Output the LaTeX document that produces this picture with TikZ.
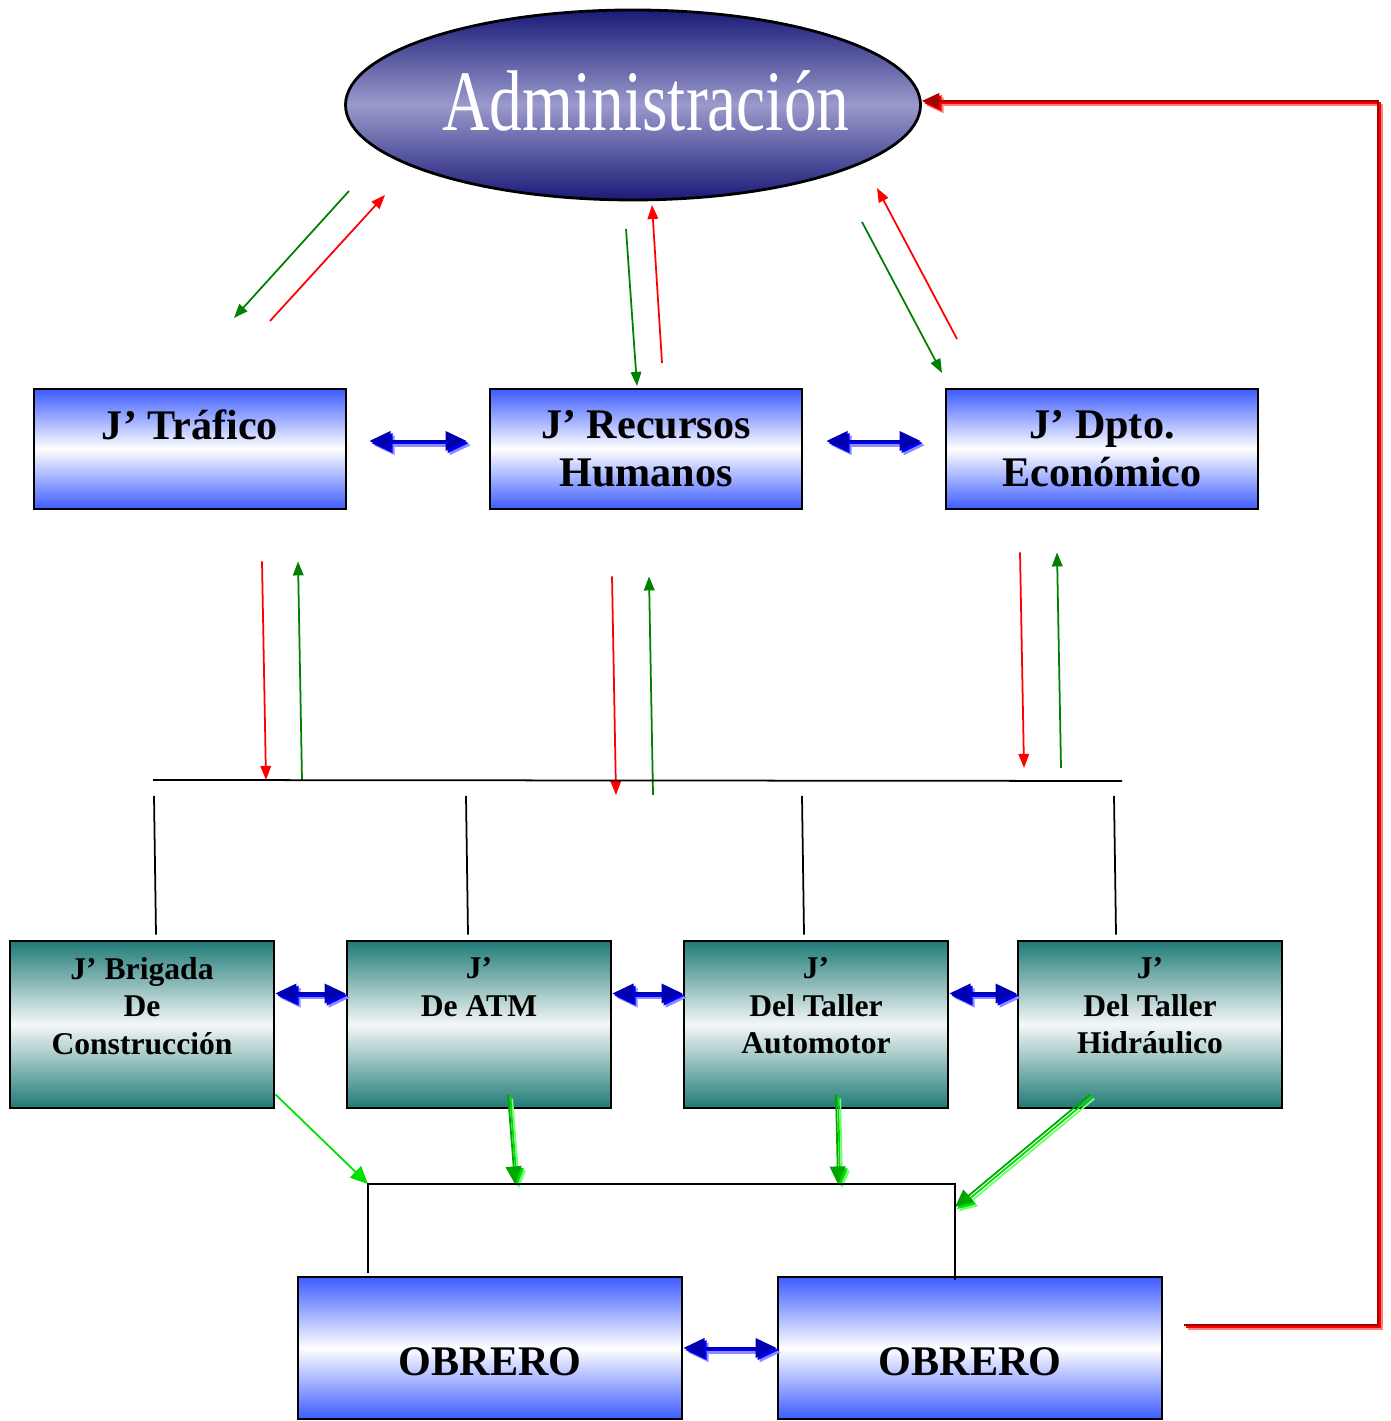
\documentclass[tikz,border=0pt]{standalone}
\usepackage{fontspec}
\setmainfont{Liberation Serif}
\usetikzlibrary{shapes.geometric,arrows.meta}
\definecolor{admdark}{HTML}{1A1A78}
\definecolor{admlight}{HTML}{9A9ACC}
\definecolor{jblue}{HTML}{3D5CFF}
\definecolor{jteal}{HTML}{1F7B77}
\definecolor{jmist}{HTML}{F4F7F7}
\definecolor{ordgreen}{HTML}{008000}
\definecolor{vivgreen}{HTML}{00E000}
\tikzset{
  admin/.style={ellipse, draw=black, line width=0.8pt, top color=admdark, bottom color=admdark, middle color=admlight, minimum width=5.75cm, minimum height=1.90cm, inner sep=0pt, text=white},
  jefe/.style={rectangle, draw=black, line width=0.8pt, top color=jblue, bottom color=jblue, middle color=white, minimum width=3.12cm, minimum height=1.20cm, inner sep=0pt, align=center, font=\bfseries\fontsize{12}{13.7}\selectfont},
  brigada/.style={rectangle, draw=black, line width=0.8pt, top color=jteal, bottom color=jteal, middle color=jmist, minimum width=2.64cm, minimum height=1.67cm, inner sep=0pt, align=center, font=\bfseries\fontsize{9}{10.7}\selectfont},
  obrero/.style={rectangle, draw=black, line width=0.8pt, top color=jblue, bottom color=jblue, middle color=white, minimum width=3.84cm, minimum height=1.42cm, inner sep=0pt, text height=0.54cm, text depth=0pt, font=\bfseries\fontsize{12}{14}\selectfont},
  bajada/.style={red, line width=0.5pt, -{Triangle[length=4pt,width=3pt]}},
  subida/.style={ordgreen, line width=0.5pt, -{Triangle[length=4pt,width=3pt]}},
  enlace/.style={line width=0.75pt, {Triangle[length=6pt,width=5.5pt]}-{Triangle[length=6pt,width=5.5pt]}},
  orden/.style={line width=0.5pt, -{Triangle[length=5pt,width=4.5pt]}},
  capa1/.style={transform canvas={shift={(0.6pt,-0.6pt)}}},
  capa2/.style={transform canvas={shift={(1.2pt,-1.2pt)}}},
  bus/.style={black, line width=0.5pt},
}
\begin{document}
\begin{tikzpicture}
\useasboundingbox (0,0) rectangle (13.90,14.21);
% nodes
\node[admin] (adm) at (6.33,13.16) {\makebox[0pt]{\hspace{0.26cm}\raisebox{0.08cm}{\scalebox{0.76}[1]{\fontsize{24.5}{28}\selectfont Administración}}}};
\node[jefe] (traf) at (1.90,9.72) {J’ Tráfico\\~};
\node[jefe] (rrhh) at (6.46,9.72) {J’ Recursos\\Humanos};
\node[jefe] (econ) at (11.02,9.72) {J’ Dpto.\\Económico};
\node[brigada] (brig) at (1.42,3.965) {J’ Brigada\\De\\Construcción\\~};
\node[brigada] (atm) at (4.79,3.965) {J’\\De ATM\\~\\~};
\node[brigada] (auto) at (8.16,3.965) {J’\\Del Taller\\Automotor\\~};
\node[brigada] (hidr) at (11.50,3.965) {J’\\Del Taller\\Hidráulico\\~};
\node[obrero] (obr1) at (4.90,0.73) {OBRERO};
\node[obrero] (obr2) at (9.70,0.73) {OBRERO};
% free ends
\coordinate (ga1) at (3.49,12.30);  \coordinate (gb1) at (2.34,11.03);
\coordinate (ra1) at (2.70,11.00);  \coordinate (rb1) at (3.85,12.26);
\coordinate (ga2) at (6.26,11.92);  \coordinate (gb2) at (6.37,10.35);
\coordinate (ra2) at (6.62,10.58);  \coordinate (rb2) at (6.52,12.16);
\coordinate (ga3) at (8.62,11.99);  \coordinate (gb3) at (9.42,10.48);
\coordinate (ra3) at (9.57,10.82);  \coordinate (rb3) at (8.77,12.33);
\coordinate (busL) at (1.53,6.41);  \coordinate (busR) at (11.22,6.40);
\coordinate (dr1) at (1.54,6.25);   \coordinate (dr2) at (4.66,6.25);
\coordinate (dr3) at (8.02,6.25);   \coordinate (dr4) at (11.14,6.25);
\coordinate (lbL) at (3.68,2.37);   \coordinate (lbR) at (9.55,2.37);
\coordinate (fb) at (11.84,0.96);   \coordinate (fbx) at (13.78,0.96);
% administracion <-> jefes
\draw[subida] (ga1) -- (gb1);
\draw[bajada] (ra1) -- (rb1);
\draw[subida] (ga2) -- (gb2);
\draw[bajada] (ra2) -- (rb2);
\draw[subida] (ga3) -- (gb3);
\draw[bajada] (ra3) -- (rb3);
% jefes <-> bus
\draw[bajada] ([xshift=0.72cm,yshift=-0.51cm]traf.south) -- ([xshift=0.76cm]traf.south |- busL);
\draw[subida] ([xshift=1.12cm]traf.south |- busL) -- ([xshift=1.08cm,yshift=-0.51cm]traf.south);
\draw[bajada] ([xshift=-0.34cm,yshift=-0.66cm]rrhh.south) -- ([xshift=-0.30cm,yshift=-0.15cm]rrhh.south |- busL);
\draw[subida] ([xshift=0.07cm,yshift=-0.15cm]rrhh.south |- busL) -- ([xshift=0.03cm,yshift=-0.66cm]rrhh.south);
\draw[bajada] ([xshift=-0.82cm,yshift=-0.42cm]econ.south) -- ([xshift=-0.78cm,yshift=0.12cm]econ.south |- busL);
\draw[subida] ([xshift=-0.41cm,yshift=0.12cm]econ.south |- busL) -- ([xshift=-0.45cm,yshift=-0.42cm]econ.south);
% bus
\draw[bus] (busL) -- (busR);
\draw[bus] (dr1) -- ([xshift=0.14cm,yshift=0.05cm]brig.north);
\draw[bus] (dr2) -- ([xshift=-0.11cm,yshift=0.05cm]atm.north);
\draw[bus] (dr3) -- ([xshift=-0.12cm,yshift=0.05cm]auto.north);
\draw[bus] (dr4) -- ([xshift=-0.34cm,yshift=0.05cm]hidr.north);
% jefes entre si
\draw[enlace, blue!45, capa2] ([xshift=0.22cm,yshift=0.08cm]traf.east) -- ([xshift=-0.22cm,yshift=0.08cm]rrhh.west);
\draw[enlace, blue, capa1] ([xshift=0.22cm,yshift=0.08cm]traf.east) -- ([xshift=-0.22cm,yshift=0.08cm]rrhh.west);
\draw[enlace, blue!70!black] ([xshift=0.22cm,yshift=0.08cm]traf.east) -- ([xshift=-0.22cm,yshift=0.08cm]rrhh.west);
\draw[enlace, blue!45, capa2] ([xshift=0.23cm,yshift=0.08cm]rrhh.east) -- ([xshift=-0.24cm,yshift=0.08cm]econ.west);
\draw[enlace, blue, capa1] ([xshift=0.23cm,yshift=0.08cm]rrhh.east) -- ([xshift=-0.24cm,yshift=0.08cm]econ.west);
\draw[enlace, blue!70!black] ([xshift=0.23cm,yshift=0.08cm]rrhh.east) -- ([xshift=-0.24cm,yshift=0.08cm]econ.west);
% brigadas entre si
\draw[enlace, blue!45, capa2] ([yshift=0.31cm]brig.east) -- ([yshift=0.31cm]atm.west);
\draw[enlace, blue, capa1] ([yshift=0.31cm]brig.east) -- ([yshift=0.31cm]atm.west);
\draw[enlace, blue!70!black] ([yshift=0.31cm]brig.east) -- ([yshift=0.31cm]atm.west);
\draw[enlace, blue!45, capa2] ([yshift=0.31cm]atm.east) -- ([yshift=0.31cm]auto.west);
\draw[enlace, blue, capa1] ([yshift=0.31cm]atm.east) -- ([yshift=0.31cm]auto.west);
\draw[enlace, blue!70!black] ([yshift=0.31cm]atm.east) -- ([yshift=0.31cm]auto.west);
\draw[enlace, blue!45, capa2] ([yshift=0.31cm]auto.east) -- ([yshift=0.31cm]hidr.west);
\draw[enlace, blue, capa1] ([yshift=0.31cm]auto.east) -- ([yshift=0.31cm]hidr.west);
\draw[enlace, blue!70!black] ([yshift=0.31cm]auto.east) -- ([yshift=0.31cm]hidr.west);
% brigadas -> obreros
\draw[orden, vivgreen] ([yshift=0.15cm]brig.south east) -- (lbL);
\draw[orden, green!55, capa2] ([xshift=0.29cm,yshift=0.15cm]atm.south) -- ([xshift=1.47cm]lbL);
\draw[orden, vivgreen, capa1] ([xshift=0.29cm,yshift=0.15cm]atm.south) -- ([xshift=1.47cm]lbL);
\draw[orden, green!65!black] ([xshift=0.29cm,yshift=0.15cm]atm.south) -- ([xshift=1.47cm]lbL);
\draw[orden, green!55, capa2] ([xshift=0.20cm,yshift=0.15cm]auto.south) -- ([xshift=-1.17cm]lbR);
\draw[orden, vivgreen, capa1] ([xshift=0.20cm,yshift=0.15cm]auto.south) -- ([xshift=-1.17cm]lbR);
\draw[orden, green!65!black] ([xshift=0.20cm,yshift=0.15cm]auto.south) -- ([xshift=-1.17cm]lbR);
\draw[orden, green!55, capa2] ([xshift=-0.60cm,yshift=0.15cm]hidr.south) -- ([yshift=-0.23cm]lbR);
\draw[orden, vivgreen, capa1] ([xshift=-0.60cm,yshift=0.15cm]hidr.south) -- ([yshift=-0.23cm]lbR);
\draw[orden, green!65!black] ([xshift=-0.60cm,yshift=0.15cm]hidr.south) -- ([yshift=-0.23cm]lbR);
% bus de obreros
\draw[bus] ([yshift=0.03cm]lbL |- obr1.north) -- (lbL) -- (lbR) -- ([yshift=-0.04cm]lbR |- obr2.north);
\draw[enlace, blue!45, capa2] (obr1.east) -- (obr2.west);
\draw[enlace, blue, capa1] (obr1.east) -- (obr2.west);
\draw[enlace, blue!70!black] (obr1.east) -- (obr2.west);
% retorno a administracion
\draw[orden, red!50, capa2] (fb) -- (fbx) |- ([yshift=0.04cm]adm.east);
\draw[orden, red, capa1] (fb) -- (fbx) |- ([yshift=0.04cm]adm.east);
\draw[orden, red!65!black] (fb) -- (fbx) |- ([yshift=0.04cm]adm.east);
\end{tikzpicture}
\end{document}
